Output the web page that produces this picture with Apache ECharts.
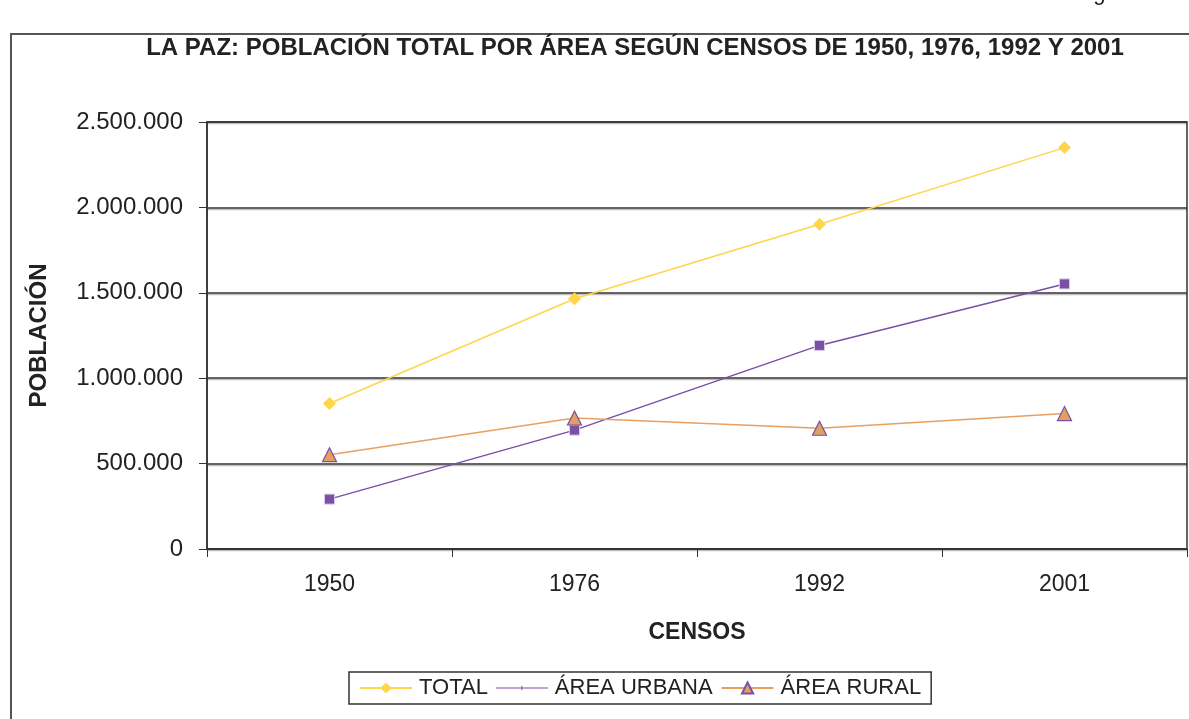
<!DOCTYPE html>
<html>
<head>
<meta charset="utf-8">
<title>La Paz: población total por área</title>
<script src="https://cdn.jsdelivr.net/npm/echarts@6/dist/echarts.min.js"></script>
<style>
  html, body { margin: 0; padding: 0; background: #fff; }
  #main { width: 1189px; height: 719px; }
</style>
</head>
<body>
<div id="main"></div>
<script>
// censos (categorías del eje X)
const censos = ['1950', '1976', '1992', '2001'];
// población por área
const total = [852000, 1465000, 1901000, 2350000];
const urbana = [292000, 696000, 1192000, 1552000];
const rural = [552000, 767000, 707000, 793000];
const yTicks = [0, 500000, 1000000, 1500000, 2000000, 2500000];

const FONT = 'Liberation Sans, Arial, sans-serif';
const fmt = v => String(v).replace(/\B(?=(\d{3})+(?!\d))/g, '.');

const myChart = echarts.init(document.getElementById('main'));
const option = {
  backgroundColor: '#fff',
  animation: false,
  textStyle: { fontFamily: FONT, color: '#222' },
  title: {
    text: 'LA PAZ: POBLACIÓN TOTAL POR ÁREA SEGÚN CENSOS DE 1950, 1976, 1992 Y 2001',
    left: 630,
    textAlign: 'center',
    top: 31,
    textStyle: { fontFamily: FONT, fontSize: 24, fontWeight: 'bold', color: '#222' }
  },
  graphic: [
    {
      type: 'polyline',
      shape: { points: [[11, 719], [11, 34], [1189, 34]] },
      style: { stroke: '#555', lineWidth: 2, fill: null }
    },
    {
      // texto cortado en el borde superior
      type: 'text',
      x: 1075, y: 5,
      style: { text: 'Figura 3', fontFamily: FONT, fontSize: 22, fill: '#222', verticalAlign: 'bottom' }
    }
  ],
  grid: {
    left: 207, right: 2, top: 122, bottom: 170,
    show: true, borderColor: '#333', borderWidth: 1.5
  },
  legend: {
    left: 349, top: 672,
    backgroundColor: '#fff',
    borderColor: '#333', borderWidth: 1.5,
    padding: [5, 10, 5, 10],
    itemWidth: 52, itemHeight: 14, itemGap: 8,
    textStyle: { fontFamily: FONT, fontSize: 22, color: '#222', padding: [0, 0, 0, 2] },
    data: [
      { name: 'TOTAL' },
      {
        name: 'ÁREA URBANA',
        icon: 'path://M0,0M52,14M0,6.5L52,6.5L52,7.5L0,7.5Z M25.5,5L26.5,5L26.5,9L25.5,9Z',
        itemStyle: { borderWidth: 0 }
      },
      { name: 'ÁREA RURAL' }
    ]
  },
  xAxis: {
    type: 'category',
    data: censos,
    boundaryGap: true,
    name: 'CENSOS',
    nameLocation: 'middle',
    nameGap: 72,
    nameTextStyle: { fontFamily: FONT, fontSize: 23, fontWeight: 'bold', color: '#222' },
    axisLine: { lineStyle: { color: '#333', width: 1.5 } },
    axisTick: { show: true, length: 8, lineStyle: { color: '#333', width: 1 } },
    axisLabel: { margin: 24, fontSize: 23, color: '#222', fontFamily: FONT },
    splitLine: { show: false }
  },
  yAxis: {
    type: 'value',
    min: 0, max: 2500000, interval: 500000,
    name: 'POBLACIÓN',
    nameLocation: 'middle',
    nameGap: 156,
    nameTextStyle: { fontFamily: FONT, fontSize: 24, fontWeight: 'bold', color: '#222' },
    axisLine: { show: true, lineStyle: { color: '#333', width: 1.5 } },
    axisTick: { show: true, length: 8, lineStyle: { color: '#333', width: 1 } },
    axisLabel: {
      margin: 24, fontSize: 24, color: '#222', fontFamily: FONT,
      formatter: v => yTicks.includes(v) ? fmt(v) : ''
    },
    splitLine: {
      show: true,
      lineStyle: { color: '#333', width: 1.5, shadowColor: 'rgba(0,0,0,0.25)', shadowOffsetY: 1.5, shadowBlur: 0 }
    }
  },
  series: [
    {
      name: 'TOTAL',
      type: 'line',
      data: total,
      symbol: 'diamond',
      symbolSize: 13,
      lineStyle: { color: '#ffd54a', width: 1.5 },
      itemStyle: { color: '#ffd54a' }
    },
    {
      name: 'ÁREA URBANA',
      type: 'line',
      data: urbana,
      symbol: 'rect',
      symbolSize: 10,
      lineStyle: { color: '#7a4fa6', width: 1.5 },
      itemStyle: { color: '#7a4fa6', borderColor: '#d7c8ea', borderWidth: 1 }
    },
    {
      name: 'ÁREA RURAL',
      type: 'line',
      data: rural,
      symbol: 'triangle',
      symbolSize: 14,
      lineStyle: { color: '#e8a060', width: 1.5 },
      itemStyle: { color: '#e0a060', borderColor: '#7a4fa6', borderWidth: 1.2 }
    }
  ]
};
myChart.setOption(option);
</script>
</body>
</html>
